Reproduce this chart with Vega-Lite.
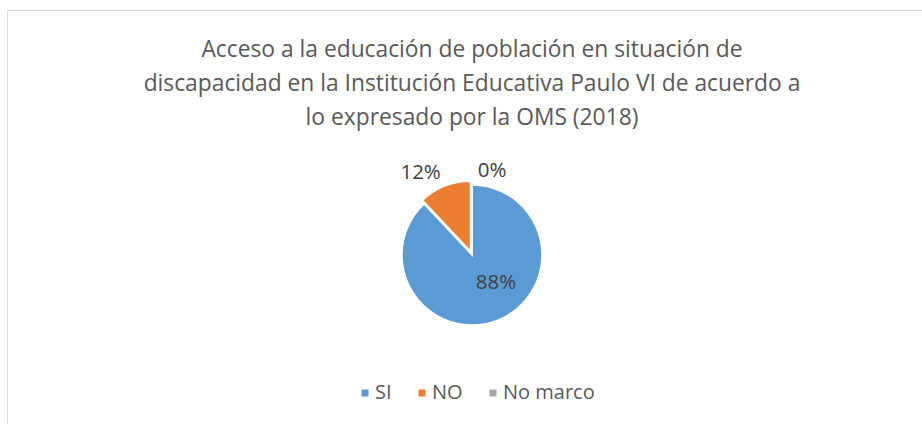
{
  "$schema": "https://vega.github.io/schema/vega-lite/v6.json",
  "width": 922,
  "height": 424,
  "autosize": {"type": "fit", "contains": "padding"},
  "padding": {"left": 7, "top": 10, "right": -15, "bottom": -76},
  "background": "white",
  "view": {"stroke": "#d9d9d9", "strokeWidth": 1},
  "config": {
    "view": {"stroke": "#d9d9d9", "strokeWidth": 1},
    "font": "Open Sans"
  },
  "title": {
    "text": [
      "Acceso a la educación de población en situación de",
      "discapacidad en la Institución Educativa Paulo VI  de acuerdo a",
      "lo expresado por la OMS (2018)"
    ],
    "anchor": "middle",
    "orient": "top",
    "offset": -120,
    "fontSize": 22.8,
    "fontWeight": "normal",
    "font": "Open Sans",
    "color": "#595959",
    "lineHeight": 34
  },
  "data": {
    "values": [
      {"categoria": "SI", "valor": 0.88},
      {"categoria": "NO", "valor": 0.12},
      {"categoria": "No marco", "valor": 0.0}
    ]
  },
  "encoding": {
    "theta": {"field": "valor", "type": "quantitative", "stack": true},
    "order": {"field": "valor", "type": "quantitative", "sort": "descending"}
  },
  "layer": [
    {
      "mark": {"type": "arc", "radius": 70, "stroke": "white", "strokeWidth": 1.5},
      "encoding": {
        "color": {
          "field": "categoria",
          "type": "nominal",
          "scale": {"domain": ["SI", "NO", "No marco"], "range": ["#5B9BD5", "#ED7D31", "#A5A5A5"]},
          "legend": {
            "title": null,
            "orient": "none",
            "direction": "horizontal",
            "columns": 3,
            "legendX": 348,
            "legendY": 373,
            "symbolType": "square",
            "symbolSize": 49,
            "symbolStrokeWidth": 0,
            "labelFontSize": 20,
            "labelFont": "Open Sans",
            "labelColor": "#595959",
            "labelOffset": 0,
            "columnPadding": 20
          }
        },
        "opacity": {"condition": {"test": "datum.categoria === 'NO'", "value": 0}, "value": 1}
      }
    },
    {
      "mark": {"type": "arc", "radius": 70, "stroke": "white", "strokeWidth": 1.5, "xOffset": -1.5, "yOffset": -3.7},
      "encoding": {
        "color": {"field": "categoria", "type": "nominal"},
        "opacity": {"condition": {"test": "datum.categoria === 'NO'", "value": 1}, "value": 0}
      }
    },
    {
      "mark": {"type": "text", "radius": 30, "dx": 13, "fontSize": 20.5, "font": "Open Sans", "color": "#404040"},
      "encoding": {
        "text": {"condition": {"test": "datum.categoria === 'SI'", "field": "valor", "format": ".0%"}, "value": ""}
      }
    },
    {
      "mark": {"type": "text", "radius": 88, "dx": -19, "fontSize": 20.5, "font": "Open Sans", "color": "#404040"},
      "encoding": {
        "text": {"condition": {"test": "datum.categoria === 'NO'", "field": "valor", "format": ".0%"}, "value": ""}
      }
    },
    {
      "mark": {"type": "text", "radius": 84, "dx": 20, "fontSize": 20.5, "font": "Open Sans", "color": "#404040"},
      "encoding": {
        "text": {"condition": {"test": "datum.categoria === 'No marco'", "field": "valor", "format": ".0%"}, "value": ""}
      }
    }
  ]
}
